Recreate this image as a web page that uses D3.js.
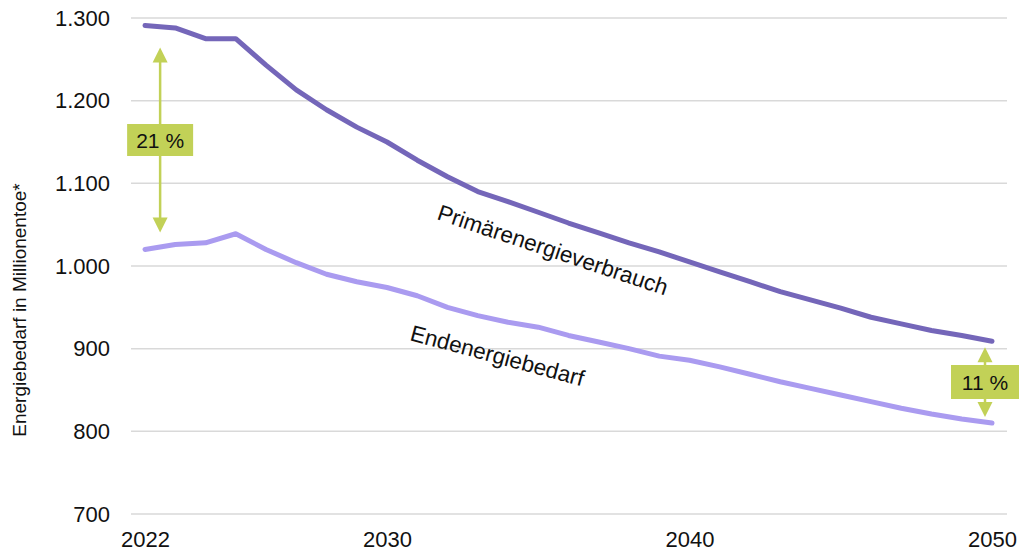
<!DOCTYPE html>
<html>
<head>
<meta charset="utf-8">
<script src="https://cdn.jsdelivr.net/npm/d3@7"></script>
<style>
  html, body { margin: 0; padding: 0; background: #fff; }
  svg { display: block; font-family: "Liberation Sans", Arial, sans-serif; }
</style>
</head>
<body>
<svg id="chart" width="1019" height="553"></svg>
<script>
// Jahresreihe 2022–2050
const years = d3.range(2022, 2051);

// Primärenergieverbrauch in Mio. toe
const primaer = [1291, 1288, 1275, 1275, 1243, 1213, 1189, 1168, 1150, 1128,
                 1108, 1090, 1078, 1065, 1052, 1040, 1028, 1017, 1005, 993,
                 981, 969, 959, 949, 938, 930, 922, 916, 909];

// Endenergiebedarf in Mio. toe
const endenergie = [1020, 1026, 1028, 1039, 1020, 1004, 990, 981, 974, 964,
                    950, 940, 932, 926, 916, 908, 900, 891, 886, 878,
                    869, 860, 852, 844, 836, 828, 821, 815, 810];

const yTicks = [700, 800, 900, 1000, 1100, 1200, 1300];
const xTicks = [2022, 2030, 2040, 2050];
const seriesNames = ["Primärenergieverbrauch", "Endenergiebedarf"];
const gapLabels = ["21 %", "11 %"];
const yTitle = "Energiebedarf in Millionentoe*";

const svg = d3.select("#chart");
const x = d3.scaleLinear().domain([2022, 2050]).range([145, 992]);
const y = d3.scaleLinear().domain([700, 1300]).range([514, 18]);
const fmt = d3.formatLocale({ decimal: ",", thousands: ".", grouping: [3], currency: ["", "€"] }).format(",d");

// Gitterlinien
svg.append("g")
  .selectAll("line")
  .data(yTicks)
  .join("line")
  .attr("x1", 131).attr("x2", 1007)
  .attr("y1", d => y(d)).attr("y2", d => y(d))
  .attr("stroke", "#d9d9d9").attr("stroke-width", 1.5);

// y-Achse
const yAxis = svg.append("g")
  .attr("transform", "translate(110,0)")
  .call(d3.axisLeft(y).tickValues(yTicks).tickFormat(fmt).tickSize(0).tickPadding(0));
yAxis.select(".domain").remove();
yAxis.selectAll("text")
  .attr("font-family", "Liberation Sans, Arial, sans-serif")
  .attr("font-size", 22).attr("fill", "#111");

// x-Achse
const xAxis = svg.append("g")
  .attr("transform", "translate(0,531)")
  .call(d3.axisBottom(x).tickValues(xTicks).tickFormat(d3.format("d")).tickSize(0).tickPadding(0));
xAxis.select(".domain").remove();
xAxis.selectAll("text")
  .attr("font-family", "Liberation Sans, Arial, sans-serif")
  .attr("font-size", 22).attr("fill", "#111");

// Achsentitel
svg.append("text")
  .attr("transform", "translate(26,310) rotate(-90)")
  .attr("text-anchor", "middle")
  .attr("font-size", 19).attr("fill", "#111")
  .text(yTitle);

// Linien
const line = d3.line().x((d, i) => x(years[i])).y(d => y(d));
const series = [
  { values: primaer, color: "#7466b9" },
  { values: endenergie, color: "#aa9bf0" }
];
svg.append("g")
  .selectAll("path")
  .data(series)
  .join("path")
  .attr("d", d => line(d.values))
  .attr("fill", "none")
  .attr("stroke", d => d.color)
  .attr("stroke-width", 5)
  .attr("stroke-linejoin", "round")
  .attr("stroke-linecap", "round");

// Reihenbeschriftungen
svg.append("text")
  .attr("transform", "translate(436,219) rotate(18.5)")
  .attr("font-size", 22.5).attr("fill", "#111")
  .text(seriesNames[0]);
svg.append("text")
  .attr("transform", "translate(409,340) rotate(15)")
  .attr("font-size", 22.5).attr("fill", "#111")
  .text(seriesNames[1]);

// Differenzpfeile zwischen beiden Reihen
const green = "#c2d157";
function gapArrow(xPos, yTop, yBot, box, label) {
  const g = svg.append("g");
  g.append("line")
    .attr("x1", xPos).attr("x2", xPos)
    .attr("y1", yTop + 10).attr("y2", yBot - 10)
    .attr("stroke", green).attr("stroke-width", 2.5);
  g.append("path")
    .attr("d", `M${xPos},${yTop} L${xPos - 7.5},${yTop + 15} L${xPos + 7.5},${yTop + 15} Z`)
    .attr("fill", green);
  g.append("path")
    .attr("d", `M${xPos},${yBot} L${xPos - 7.5},${yBot - 15} L${xPos + 7.5},${yBot - 15} Z`)
    .attr("fill", green);
  g.append("rect")
    .attr("x", xPos - box.w / 2).attr("y", box.cy - box.h / 2)
    .attr("width", box.w).attr("height", box.h)
    .attr("fill", green);
  g.append("text")
    .attr("x", xPos).attr("y", box.cy)
    .attr("dy", "0.36em")
    .attr("text-anchor", "middle")
    .attr("font-size", 21).attr("fill", "#111")
    .text(label);
}

gapArrow(x(2022.5), y(primaer[0]) + 22, y(endenergie[0]) - 17, { w: 66, h: 32, cy: 140 }, gapLabels[0]);
gapArrow(985, y(primaer[28]) + 6, y(endenergie[28]) - 6, { w: 68, h: 34, cy: 382 }, gapLabels[1]);
</script>
</body>
</html>
